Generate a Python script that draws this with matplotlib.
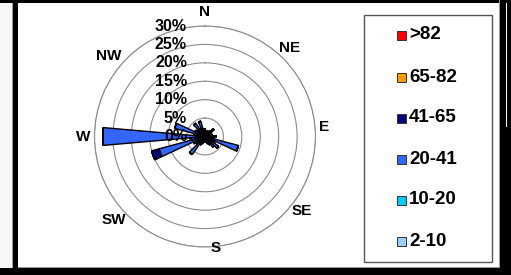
"""
Wind rose - frequency by direction and speed class
"""
import numpy as np
import matplotlib
matplotlib.use("Agg")
import matplotlib.pyplot as plt
from matplotlib.patches import Rectangle

plt.rcParams["font.family"] = ["Liberation Sans", "DejaVu Sans"]

# ── Data ──────────────────────────────────────────────────────────────
directions = list(range(0, 360, 10))   # degrees, clockwise from north

c2_10  = [0.3, 0.2, 0.2, 0.2, 0.3, 0.3, 0.2, 0.2, 0.3, 0.3, 0.3, 0.4,
          0.3, 0.3, 0.3, 0.3, 0.2, 0.2, 0.2, 0.2, 0.3, 0.3, 0.4, 0.3,
          0.3, 0.4, 0.4, 0.5, 0.3, 0.4, 0.3, 0.3, 0.3, 0.3, 0.3, 0.3]
c10_20 = [0.5, 0.4, 0.4, 0.4, 0.5, 0.6, 0.5, 0.4, 0.5, 0.6, 0.6, 0.9,
          0.6, 0.7, 0.6, 0.5, 0.5, 0.4, 0.4, 0.4, 0.5, 0.6, 0.8, 0.6,
          0.7, 1.0, 0.8, 1.2, 0.6, 0.9, 0.6, 0.6, 0.7, 0.6, 0.7, 0.5]
c20_41 = [1.2, 0.9, 0.9, 0.9, 1.2, 2.1, 1.3, 0.9, 1.2, 2.1, 1.6, 8.1,
          2.1, 3.5, 2.6, 1.7, 1.3, 0.9, 0.9, 0.9, 1.2, 1.6, 4.8, 2.1,
          2.5, 11.5, 2.8, 26.0, 2.1, 7.2, 2.1, 1.6, 3.4, 1.6, 3.3, 1.2]
c41_65 = [0, 0, 0, 0, 0, 0, 0, 0, 0, 0, 0, 0,
          0, 0, 0, 0, 0, 0, 0, 0, 0, 0, 0, 0,
          0, 2.1, 0, 0, 0, 0, 0, 0, 0, 0, 0, 0]
c65_82 = [0] * 36
c82    = [0] * 36

classes = ["2-10", "10-20", "20-41", "41-65", "65-82", ">82"]
class_colors = ["#99ccff", "#00ccff", "#3366ff", "#000080", "#ff9900", "#ff0000"]

ring_values = [0, 5, 10, 15, 20, 25, 30]
compass = ["N", "NE", "E", "SE", "S", "SW", "W", "NW"]

# ── Figure ────────────────────────────────────────────────────────────
W, H = 511, 275
fig = plt.figure(figsize=(W / 100, H / 100), dpi=100)
fig.patch.set_facecolor("white")


def fx(x):
    return x / W


def fy(y):
    # y measured from top in pixels
    return 1 - y / H


def rect(x, y, w, h, fc, ec="none", lw=0, z=0):
    fig.add_artist(Rectangle((fx(x), fy(y + h)), w / W, h / H,
                             transform=fig.transFigure, facecolor=fc,
                             edgecolor=ec, linewidth=lw, zorder=z))


# screenshot frame
rect(0, 0, 13, 268, "#f7f7f7")
rect(12, 0, 1, 268, "#9a9a9a")
rect(13, 0, 5, 275, "black")
rect(0, 0, W, 3, "black")
rect(0, 268, W, 7, "black")
rect(18, 267, 482, 1, "#9a9a9a")
rect(499, 0, 1, 268, "#9a9a9a")
rect(500, 0, 11, 275, "black")
rect(506, 3, 1, 124, "white")

# ── Polar rose ────────────────────────────────────────────────────────
cx, cy, R = 205, 136.5, 110.5
ax = fig.add_axes([fx(cx - R), fy(cy + R), 2 * R / W, 2 * R / H],
                  projection="polar")
ax.set_theta_zero_location("N")
ax.set_theta_direction(-1)
ax.set_ylim(0, 30)
ax.patch.set_visible(False)
ax.set_xticks([])
ax.set_rgrids(ring_values[1:], labels=[""] * (len(ring_values) - 1))
ax.grid(True, color="#8c8c8c", lw=0.8)
ax.xaxis.grid(False)
ax.spines["polar"].set_color("#8c8c8c")
ax.spines["polar"].set_linewidth(0.8)

theta = np.deg2rad(directions)
width = np.deg2rad(10)
bottom = np.zeros(len(directions))
for vals, col in zip([c2_10, c10_20, c20_41, c41_65, c65_82, c82], class_colors):
    vals = np.array(vals, dtype=float)
    ax.bar(theta, vals, width=width, bottom=bottom, color=col,
           edgecolor="black", linewidth=1.0, zorder=3)
    bottom += vals

for r in ring_values:
    ax.annotate(f"{r}%", xy=(0, r), xytext=(-13, 0), textcoords="offset points",
                ha="right", va="center", fontsize=11.5, fontweight="bold",
                color="black", zorder=10, annotation_clip=False)

# compass labels
compass_pos = [(205, 12), (290, 48), (324, 127), (302, 211),
               (216, 248), (114, 220), (83, 137), (109, 56)]
for lbl, (x, y) in zip(compass, compass_pos):
    fig.text(fx(x), fy(y), lbl, fontsize=11, fontweight="bold",
             ha="center", va="center", color="black")

# ── Legend ────────────────────────────────────────────────────────────
rect(364, 15, 128, 247, "white", ec="#555555", lw=1, z=1)
leg_y = [241, 200, 159, 118, 77, 35]      # 2-10 at bottom, >82 at top
for lbl, col, y in zip(classes, class_colors, leg_y):
    rect(397, y - 4.5, 9, 9, col, ec="#333333", lw=0.7, z=2)
    fig.text(fx(409), fy(y), lbl, fontsize=13.5, fontweight="bold",
             ha="left", va="center", color="black")

plt.savefig("out.png", dpi=100, facecolor="white")
